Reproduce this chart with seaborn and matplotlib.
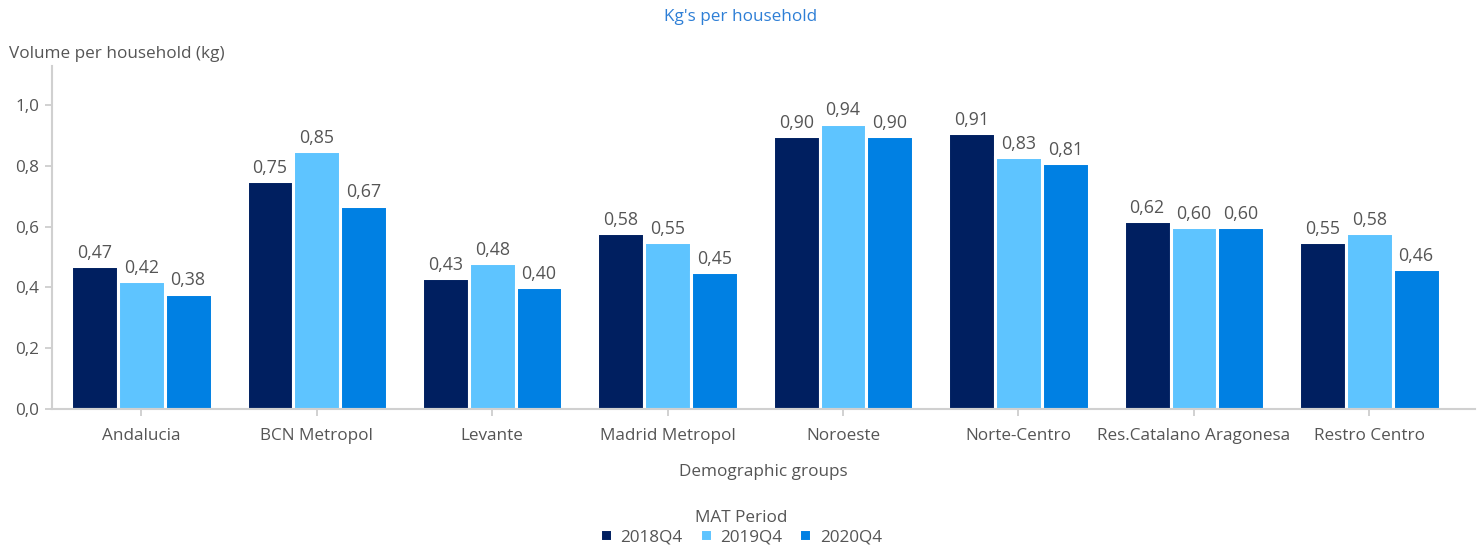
import matplotlib
matplotlib.use("Agg")
import matplotlib.pyplot as plt
import seaborn as sns
import pandas as pd

categories = ["Andalucia", "BCN Metropol", "Levante", "Madrid Metropol", "Noroeste",
              "Norte-Centro", "Res.Catalano Aragonesa", "Restro Centro"]
periods = ["2018Q4", "2019Q4", "2020Q4"]
v2018 = [0.47, 0.75, 0.43, 0.58, 0.90, 0.91, 0.62, 0.55]
v2019 = [0.42, 0.85, 0.48, 0.55, 0.94, 0.83, 0.60, 0.58]
v2020 = [0.38, 0.67, 0.40, 0.45, 0.90, 0.81, 0.60, 0.46]
yticks = [0.0, 0.2, 0.4, 0.6, 0.8, 1.0]
colors = ["#001F60", "#5EC4FF", "#0080E3"]

rows = []
for p, vals in zip(periods, [v2018, v2019, v2020]):
    for c, v in zip(categories, vals):
        rows.append({"group": c, "period": p, "value": v})
df = pd.DataFrame(rows)

sns.set_theme(style="white")
plt.rcParams["font.family"] = ["Open Sans", "DejaVu Sans"]
txt = "#555555"
fs = 12.3

fig = plt.figure(figsize=(14.82, 5.54), dpi=100)
ax = fig.add_axes([0.035, 0.262, 0.96, 0.619])

sns.barplot(data=df, x="group", y="value", hue="period", order=categories,
            hue_order=periods, palette=colors, width=0.8, edgecolor="white",
            linewidth=2.2, saturation=1, ax=ax, legend=True)

for cont in ax.containers:
    labels = [f"{b.get_height():.2f}".replace(".", ",") for b in cont]
    ax.bar_label(cont, labels=labels, padding=3, fontsize=fs + 0.5, color=txt)

ax.set_ylim(0, 1.13)
ax.set_xlim(-0.51, 7.6)
ax.set_yticks(yticks)
ax.set_yticklabels([f"{t:.1f}".replace(".", ",") for t in yticks], fontsize=fs, color=txt)
ax.tick_params(axis="x", labelsize=fs, labelcolor=txt, length=5, color="#cccccc", bottom=True, pad=9)
ax.tick_params(axis="y", length=5, color="#cccccc", left=True, pad=4)
ax.set_ylabel("")
ax.set_xlabel("Demographic groups", fontsize=fs, color=txt, labelpad=14)
for s in ["top", "right"]:
    ax.spines[s].set_visible(False)
for s in ["left", "bottom"]:
    ax.spines[s].set_color("#d0d0d0")
    ax.spines[s].set_linewidth(1.5)

fig.text(0.5, 0.97, "Kg's per household", ha="center", va="center", fontsize=fs, color="#2E7FD6")
fig.text(0.006, 0.902, "Volume per household (kg)", ha="left", va="center", fontsize=fs, color=txt)

handles, lbls = ax.get_legend_handles_labels()
ax.get_legend().remove()
leg = fig.legend(handles, lbls, title="MAT Period", loc="lower center", ncol=3,
                 bbox_to_anchor=(0.5, -0.012), frameon=False, fontsize=fs,
                 title_fontsize=fs, handlelength=0.7, handleheight=0.7,
                 handletextpad=0.5, columnspacing=1.0, labelspacing=0.2)
for t in leg.get_texts():
    t.set_color(txt)
leg.get_title().set_color(txt)

fig.savefig("out.png", dpi=100)
